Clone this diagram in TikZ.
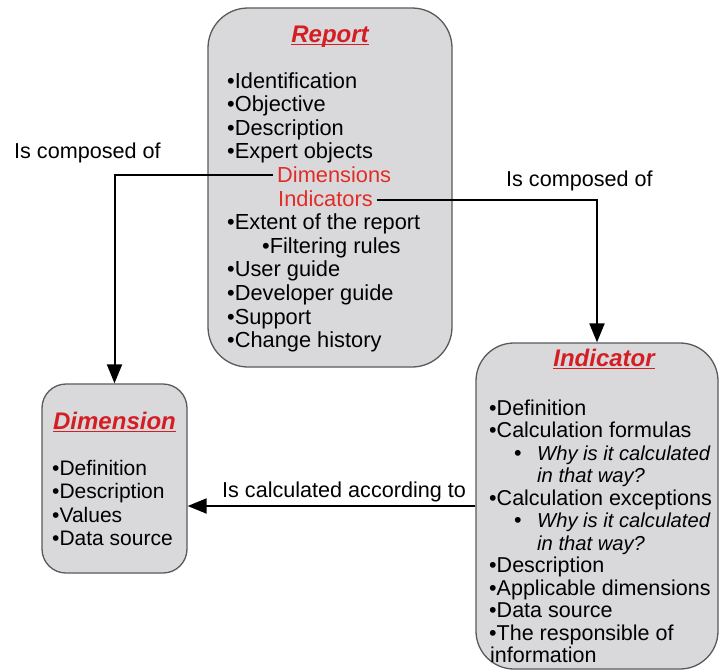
\documentclass[tikz,border=0pt]{standalone}
\usepackage{fontspec}
\setmainfont{Liberation Sans}
\usetikzlibrary{arrows.meta}
\definecolor{boxfill}{RGB}{217,217,219}
\definecolor{boxline}{RGB}{90,90,90}
\definecolor{titlered}{RGB}{212,30,36}
\definecolor{itemred}{RGB}{226,44,40}
\begin{document}
\begin{tikzpicture}[x=1pt,y=-1pt,
  box/.style={draw=boxline, line width=1.3pt, fill=boxfill, inner sep=0pt},
  item/.style={anchor=base west, inner sep=0pt, font=\fontsize{21}{24}\selectfont},
  itemr/.style={anchor=base west, inner sep=0pt, font=\fontsize{21.8}{24}\selectfont},
  itemi/.style={anchor=base west, inner sep=0pt, font=\fontsize{21.5}{24}\selectfont},
  itemsub/.style={anchor=base west, inner sep=0pt, font=\fontsize{20.2}{24}\selectfont\itshape},
  ttl/.style={anchor=base, inner sep=0pt, text=titlered, font=\fontsize{24}{28}\selectfont\bfseries\itshape},
  uline/.style={draw=titlered, line width=1.8pt},
  conn/.style={line width=2pt, -{Triangle[length=19pt,width=15pt]}},
  lbl/.style={anchor=base west, inner sep=0pt, font=\fontsize{21.6}{24}\selectfont}]
\useasboundingbox (0,0) rectangle (720,670);
\fill[white] (0,0) rectangle (720,670);

% boxes
\node[box, rounded corners=40pt, minimum width=244pt, minimum height=359pt] (report) at (330,187.5) {};
\node[box, rounded corners=24pt, minimum width=145pt, minimum height=189pt] (dimension) at (114.5,478.5) {};
\node[box, rounded corners=38pt, minimum width=242pt, minimum height=326pt] (indicator) at (597,506) {};

% titles
\node[ttl] (reporttitle) at (330,42) {Report};
\draw[uline] ([yshift=-2.5pt]reporttitle.base west) -- ([yshift=-2.5pt]reporttitle.base east);
\node[ttl] (indicatortitle) at (604,366) {Indicator};
\draw[uline] ([yshift=-2.5pt]indicatortitle.base west) -- ([yshift=-2.5pt]indicatortitle.base east);
\node[ttl] (dimensiontitle) at (114.5,429) {Dimension};
\draw[uline] ([yshift=-2.5pt]dimensiontitle.base west) -- ([yshift=-2.5pt]dimensiontitle.base east);

% report items
\foreach \x/\k/\t [count=\i] in {227/0/•Identification, 227/1/•Objective, 227/2/•Description,
  227/3/•Expert objects, 227/6/•Extent of the report, 262/7/•Filtering rules,
  227/8/•User guide, 227/9/•Developer guide, 227/10/•Support, 227/11/•Change history}
  \node[itemr] (r\i) at ({\x},{88+23.6*\k}) {\t};
\node[itemr, text=itemred] (dims) at (277,{88+23.6*4}) {Dimensions};
\node[itemr, text=itemred] (inds) at (278,{88+23.6*5}) {Indicators};

% indicator items
\foreach \x/\k/\t [count=\i] in {489/0/•Definition, 489/1/•Calculation formulas,
  514/2/•, 489/4/•Calculation exceptions, 514/5/•, 489/7/•Description,
  489/8/•Applicable dimensions, 489/9/•Data source, 489/10/•The responsible of,
  490/11/information}
  \node[itemi] (i\i) at ({\x},{415+22.5*\k}) {\t};
\foreach \k/\t [count=\i] in {2/Why is it calculated, 3/in that way?,
  5/Why is it calculated, 6/in that way?}
  \node[itemsub] (s\i) at (537,{415+22.5*\k}) {\t};

% dimension items
\foreach \k/\t [count=\i] in {0/•Definition, 1/•Description, 2/•Values, 3/•Data source}
  \node[item] (d\i) at (52,{475+23.6*\k}) {\t};

% connectors
\draw[conn] ([xshift=-4pt]dims.west) -| (dimension.north);
\draw[conn] ([xshift=4pt,yshift=-2pt]inds.east) -| (indicator.north);
\draw[conn] (indicator.west) -- (indicator.west -| dimension.east);

% connector labels
\node[lbl] (l1) at (14,158) {Is composed of};
\node[lbl] (l2) at (506,186) {Is composed of};
\node[lbl] (l3) at (222,497) {Is calculated according to};
\end{tikzpicture}
\end{document}
